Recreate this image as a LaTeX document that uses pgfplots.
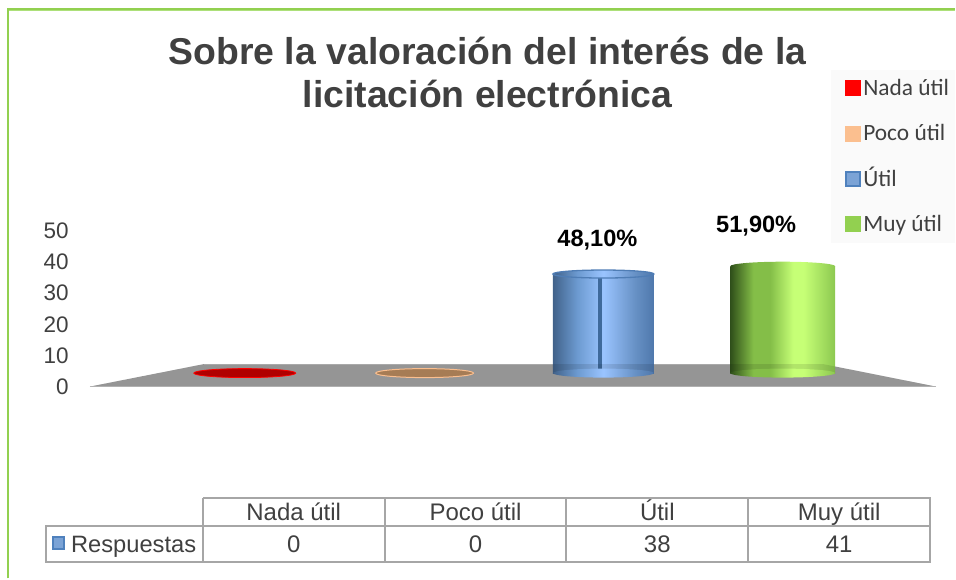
\documentclass[border=0pt]{standalone}
\usepackage{pgfplots}
\pgfplotsset{compat=1.18}
\usepackage{fontspec}
\setmainfont{Liberation Sans}
\newfontfamily\calibri{Carlito}
\definecolor{txt}{HTML}{404040}
\definecolor{grn}{HTML}{92D050}
\definecolor{grnl}{HTML}{ADE07A}
\definecolor{floorc}{HTML}{A6A6A6}
\definecolor{flooredge}{HTML}{BDBDBD}
\definecolor{tblc}{HTML}{A6A6A6}
\definecolor{tanc}{HTML}{FBBF8F}
\definecolor{tand}{HTML}{A67C55}
\definecolor{redd}{HTML}{B00000}
\definecolor{bluec}{HTML}{4F81BD}
\definecolor{bluel}{HTML}{7BA3D6}
\definecolor{blued}{HTML}{3F6A9C}
\definecolor{bluer}{HTML}{4F7DB5}
\definecolor{legbg}{HTML}{FAFAFA}
\definecolor{ba}{HTML}{41628A}
\definecolor{bb}{HTML}{6C9AD0}
\definecolor{bc}{HTML}{9AC4FF}
\definecolor{bd}{HTML}{6690C4}
\definecolor{be}{HTML}{4F78AC}
\definecolor{ga}{HTML}{2F4F1A}
\definecolor{gb}{HTML}{84BE48}
\definecolor{gc}{HTML}{C6FF76}
\definecolor{gd}{HTML}{8CC850}
\pgfdeclarehorizontalshading{bluecyl}{100bp}{
 color(0bp)=(ba); color(25bp)=(ba); color(37bp)=(bb); color(50bp)=(bc);
 color(66bp)=(bd); color(75bp)=(be); color(100bp)=(be)}
\pgfdeclarehorizontalshading{grncyl}{100bp}{
 color(0bp)=(ga); color(25bp)=(ga); color(36bp)=(gb); color(44bp)=(gb);
 color(55bp)=(gc); color(60bp)=(gc); color(75bp)=(gd); color(100bp)=(gd)}
% cylinder ends
\pgfdeclareplotmark{blueend}{%
  \pgfpathellipse{\pgfpointorigin}{\pgfqpoint{50.5pt}{0pt}}{\pgfqpoint{0pt}{4.5pt}}%
  \pgfshadepath{bluecyl}{0}\pgfusepath{discard}}
\pgfdeclareplotmark{bluetop}{%
  \pgfpathellipse{\pgfpointorigin}{\pgfqpoint{50.5pt}{0pt}}{\pgfqpoint{0pt}{4pt}}%
  \pgfshadepath{bluecyl}{0}\pgfsetstrokecolor{bluer}\pgfsetlinewidth{1.3pt}\pgfusepath{stroke}}
\pgfdeclareplotmark{grnend}{%
  \pgfpathellipse{\pgfpointorigin}{\pgfqpoint{52.5pt}{0pt}}{\pgfqpoint{0pt}{4.5pt}}%
  \pgfshadepath{grncyl}{0}\pgfusepath{discard}}
\pgfdeclareplotmark{redflat}{%
  \pgfpathellipse{\pgfpointorigin}{\pgfqpoint{51pt}{0pt}}{\pgfqpoint{0pt}{4.5pt}}%
  \pgfusepathqfillstroke}
\newcommand{\fs}[1]{\fontsize{#1}{#1}\selectfont}
\newcommand{\swatch}[1]{\pgfsetfillcolor{#1}\pgfpathrectangle{\pgfqpoint{-2pt}{-6pt}}{\pgfqpoint{16pt}{16pt}}\pgfusepath{fill}}
\begin{document}
\begin{tikzpicture}
\path (0pt,-579pt) rectangle (956pt,0pt);
% frame
\begin{scope}[x=1pt,y=-1pt]
\draw[grn,line width=2pt] (8,579) -- (8,9) -- (956,9);
\draw[grnl,line width=0.7pt] (9,10.3) -- (956,10.3);
\fill[legbg] (832,70) rectangle (956,243);
\node[txt,font=\bfseries\fs{37.4},anchor=center] at (488,51) {Sobre la valoración del interés de la};
\node[txt,font=\bfseries\fs{37.4},anchor=center] at (488,94) {licitación electrónica};
\end{scope}
% value scale
\begin{axis}[at={(72pt,-387pt)},anchor=south west,scale only axis,
  width=865pt,height=156pt,xmin=72,xmax=937,ymin=0,ymax=50,
  axis x line=none,axis y line=left,y axis line style={draw=none},
  xtick=\empty,ytick={0,10,20,30,40,50},major tick length=0pt,
  /pgf/number format/assume math mode=true,
  yticklabel style={font=\fs{22.5},text=txt,inner sep=0pt,xshift=-3pt}]
\addplot[draw=none,forget plot] coordinates {(72,0) (937,50)};
\end{axis}
% cylinders and floor
\begin{axis}[at={(0pt,-579pt)},anchor=south west,
  x=1pt,y=2.61pt,xmin=0,xmax=956,ymin=-78.74,ymax=143.10,
  axis lines=none,clip=false,
  legend cell align=left,
  legend style={at={(846/956,510/579)},anchor=north west,draw=none,fill=none,
    font=\calibri\fs{23.4},text=txt,row sep=19.5pt,inner xsep=0pt,inner ysep=8pt,
    nodes={text height=16pt,text depth=6pt}}]
\addplot[fill=floorc,draw=none,forget plot] coordinates {(90,-5.17) (204,3.45) (824,3.45) (937,-5.17)} -- cycle;
\addplot[draw=flooredge,line width=1.2pt,forget plot] coordinates {(90,-5.17) (937,-5.17)};
\addplot[draw=flooredge,line width=1pt,forget plot] coordinates {(204,3.45) (824,3.45)};

\addplot[only marks,mark=redflat,mark options={fill=redd,draw=red,line width=.8pt},
  legend image code/.code={\swatch{red}}]
  coordinates {(245,0)};
\addlegendentry{Nada útil}
\addplot[only marks,mark=redflat,mark options={fill=tand,draw=tanc,xscale=.96,line width=1pt},
  legend image code/.code={\swatch{tanc}}]
  coordinates {(425,0)};
\addlegendentry{Poco útil}
% bottom caps
\addplot[only marks,mark=blueend,forget plot] coordinates {(604,0)};
\addplot[only marks,mark=grnend,forget plot] coordinates {(783.5,0)};
\addplot[ybar,bar width=101,bar shift=0pt,draw=none,shade,shading=bluecyl,
  legend image code/.code={\swatch{bluec}\pgfsetfillcolor{bluel}\pgfpathrectangle{\pgfqpoint{0pt}{-4pt}}{\pgfqpoint{12pt}{12pt}}\pgfusepath{fill}}]
  coordinates {(604,38)};
\addlegendentry{Útil}
\addplot[ybar,bar width=105,bar shift=0pt,draw=none,shade,shading=grncyl,
  legend image code/.code={\swatch{grn}}]
  coordinates {(783.5,41)};
\addlegendentry{Muy útil}
% top caps
\addplot[only marks,mark=bluetop,forget plot] coordinates {(604,38)};
\addplot[only marks,mark=grnend,forget plot] coordinates {(783.5,41)};
% seam of the blue cylinder
\addplot[draw=blued,line width=4pt,forget plot] coordinates {(600.5,0.3) (600.5,37.4)};
% floor seen through the cylinders
\addplot[fill=black,fill opacity=.10,draw=none,forget plot] coordinates {(90,-5.17) (204,3.45) (824,3.45) (937,-5.17)} -- cycle;
\end{axis}
\begin{scope}[x=1pt,y=-1pt]
\node[font=\bfseries\fs{23.6}] at (598,240) {48,10\%};
\node[font=\bfseries\fs{23.6}] at (757,226.5) {51,90\%};
% data table
\draw[tblc,line width=2pt] (203,499) -- (931,499) -- (931,563) -- (46,563) -- (46,527) -- (931,527);
\foreach \x in {203,385,567,749} \draw[tblc,line width=2pt] (\x,499) -- (\x,563);
\fill[bluec] (52,537) rectangle (65,551);
\fill[bluel] (54,539) rectangle (63,549);
\node[txt,font=\fs{23.7},anchor=base west,inner sep=0pt] at (71,553) {Respuestas};
\foreach \x/\t/\v in {294/Nada útil/0,476/Poco útil/0,658/Útil/38,840/Muy útil/41}{
  \node[txt,font=\fs{24},anchor=base,inner sep=0pt] at (\x,521.5) {\t};
  \node[txt,font=\fs{24},anchor=base,inner sep=0pt] at (\x,553) {\v};
}
\end{scope}
\end{tikzpicture}
\end{document}
